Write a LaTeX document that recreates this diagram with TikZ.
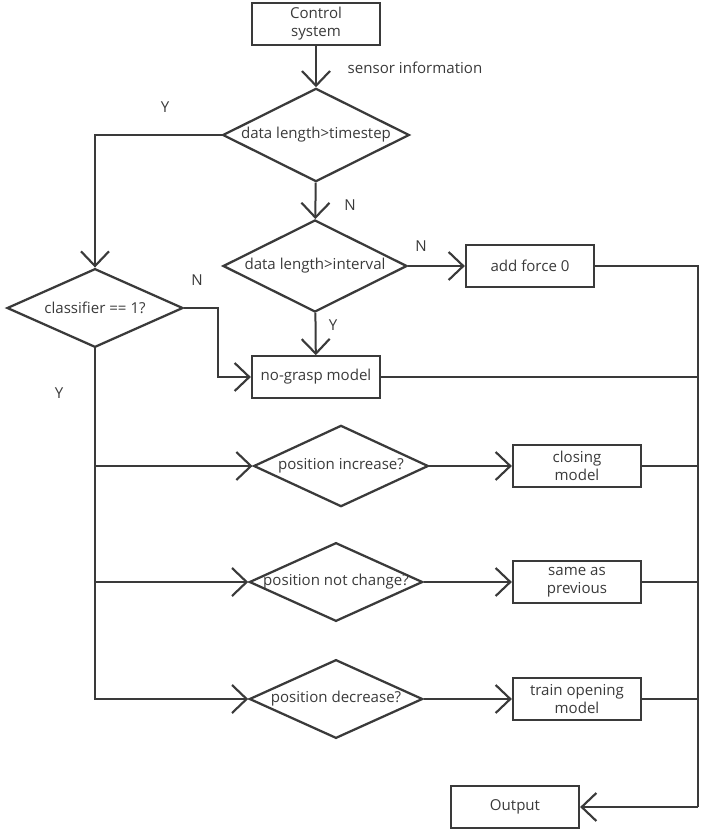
\documentclass[tikz,border=0pt]{standalone}
\usepackage{fontspec}
\setmainfont{Open Sans}
\definecolor{ink}{HTML}{3A3A3A}
\usetikzlibrary{shapes.geometric,arrows.meta,positioning,calc}
\newcommand{\dtext}[1]{\makebox[0pt]{#1}}

\begin{document}
\begin{tikzpicture}[
  x=0.75pt, y=-0.75pt,
  line width=1.5pt, draw=ink, text=ink,
  proc/.style={rectangle, draw=ink, line width=1.7pt, minimum width=96pt, minimum height=31pt, inner sep=1pt, font=\fontsize{11.3}{13.5}\selectfont, align=center},
  decision/.style={diamond, draw=ink, line width=1.7pt, inner sep=0pt, font=\fontsize{11.3}{13.5}\selectfont},
  lbl/.style={font=\fontsize{11.3}{13.5}\selectfont},
  arr/.style={-{Straight Barb[length=11pt,width=21pt,line width=1.6pt]}},
]
\useasboundingbox (0,0) rectangle (708,836);
% top part
\node[proc] (ctrl) at (316,24) {Control\\system};
\node[decision, minimum width=140pt, minimum height=70pt] (len1) at (316,135) {\dtext{data length>timestep}};
\node[decision, minimum width=138pt, minimum height=69pt] (len2) at (315,266) {\dtext{data length>interval}};
\node[proc] (force) at (530,266) {add force 0};
\node[proc] (nograsp) at (316,377) {no-grasp model};
\node[decision, minimum width=132pt, minimum height=59pt] (cls) at (95,308) {\dtext{classifier == 1?}};
% position checks
\node[decision, minimum width=131pt, minimum height=61pt] (pinc) at (341,466) {\dtext{position increase?}};
\node[decision, minimum width=130pt, minimum height=59pt] (pkeep) at (336,582) {\dtext{position not change?}};
\node[decision, minimum width=130pt, minimum height=59pt] (pdec) at (336,699) {\dtext{position decrease?}};
\node[proc] (closing) at (577,466) {closing\\model};
\node[proc] (same) at (577,582) {same as\\previous};
\node[proc] (opening) at (577,699) {train opening\\model};
\node[proc] (out) at (515,807) {Output};
\coordinate (join) at (698,807);

% labels
\node[lbl] (sensor) at (415,68) {sensor information};
\node[lbl] (y1) at (165,107) {Y};
\node[lbl] (n1) at (350,205) {N};
\node[lbl] (n2) at (421,246) {N};
\node[lbl] (y2) at (333,325) {Y};
\node[lbl] (n3) at (197,280) {N};
\node[lbl] (y3) at (59,393) {Y};

% connectors
\draw[arr] (ctrl) -- (len1);
\draw[arr] (len1.west) -| (cls.north);
\draw[arr] (len1) -- (len2);
\draw[arr] (len2.east) -- (force.west);
\draw[arr] (len2) -- (nograsp);
\draw[arr] (cls.east) -- ++(34,0) |- (nograsp.west);
\draw[arr] (cls.south) |- (pinc.west);
\draw[arr] (cls.south) |- (pkeep.west);
\draw[arr] (cls.south) |- (pdec.west);
\draw[arr] (pinc.east) -- (closing.west);
\draw[arr] (pkeep.east) -- (same.west);
\draw[arr] (pdec.east) -- (opening.west);
\draw (force.east) -| (join);
\draw (nograsp.east) -- (nograsp.east -| join);
\draw (closing.east) -- (closing.east -| join);
\draw (same.east) -- (same.east -| join);
\draw (opening.east) -- (opening.east -| join);
\draw[arr] (join) -- (out.east);
\end{tikzpicture}
\end{document}
